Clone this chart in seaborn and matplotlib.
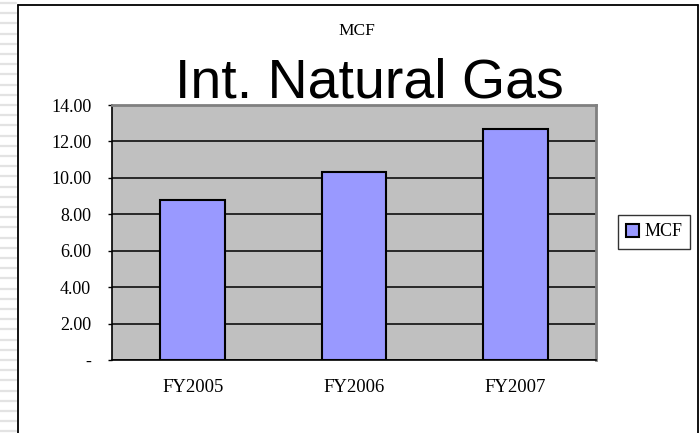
import pandas as pd
import numpy as np
import matplotlib.pyplot as plt
import seaborn as sns
from matplotlib.lines import Line2D

# chart data
years = ["FY2005", "FY2006", "FY2007"]
mcf = [8.78, 10.32, 12.70]
y_ticks = [0, 2, 4, 6, 8, 10, 12, 14]
y_labels = ["-", "2.00", "4.00", "6.00", "8.00", "10.00", "12.00", "14.00"]

W, H = 700, 433


def fx(px):
    return px / W


def fy(py):
    return 1 - py / H


def main():
    df = pd.DataFrame({"year": years, "mcf": mcf})

    sns.set_style("white")
    plt.rcParams["font.family"] = ["Liberation Serif", "DejaVu Serif"]
    plt.rcParams["text.color"] = "black"
    plt.rcParams["xtick.color"] = "black"
    plt.rcParams["ytick.color"] = "black"
    plt.rcParams["xtick.labelcolor"] = "black"
    plt.rcParams["ytick.labelcolor"] = "black"

    fig = plt.figure(figsize=(7, 4.33), dpi=100)

    # slide decoration: striped margin on the left and the chart frame
    for py in np.arange(3, H, 10.2):
        fig.add_artist(Line2D([0, fx(16)], [fy(py), fy(py)], color="#E3E3E3", lw=1.6))
    fig.add_artist(Line2D([fx(18), fx(18)], [fy(5), 0], color="black", lw=1.3))
    fig.add_artist(Line2D([fx(18), fx(698)], [fy(5), fy(5)], color="black", lw=1.3))
    fig.add_artist(Line2D([fx(698), fx(698)], [fy(5), 0], color="black", lw=1.3))

    ax = fig.add_axes([fx(112), fy(360), fx(596) - fx(112), fy(105) - fy(360)])
    ax.set_facecolor("#C0C0C0")

    sns.barplot(data=df, x="year", y="mcf", color="#9999FF", saturation=1,
                edgecolor="black", linewidth=1.5, width=0.4, ax=ax, zorder=3)

    ax.set_ylim(0, 14)
    ax.set_xlim(-0.5, len(years) - 0.5)
    ax.set_yticks(y_ticks)
    ax.set_yticklabels(y_labels, fontsize=13)
    ax.yaxis.grid(True, color="black", lw=1.1, zorder=1)
    ax.set_axisbelow(True)

    # category ticks sit between the bars, labels at bar centres
    ax.set_xticks(np.arange(len(years)))
    ax.set_xticklabels(years, fontsize=13.5)
    ax.set_xticks(np.arange(-0.5, len(years)), minor=True)
    ax.tick_params(axis="x", which="major", length=0, pad=14)
    ax.tick_params(axis="x", which="minor", length=4, width=1, direction="out", color="black")
    ax.tick_params(axis="y", length=3, width=1, direction="out", pad=12, color="black", left=True)
    ax.set_xlabel("")
    ax.set_ylabel("")

    for side in ["top", "right"]:
        ax.spines[side].set_color("#808080")
        ax.spines[side].set_linewidth(2)
    for side in ["left", "bottom"]:
        ax.spines[side].set_color("black")
        ax.spines[side].set_linewidth(1.2)

    fig.text(fx(357), fy(31), "MCF", ha="center", va="center", fontsize=12.5, color="black")
    fig.text(fx(369), fy(97), "Int. Natural Gas", ha="center", va="baseline",
             fontsize=40, color="black", family=["Liberation Sans", "DejaVu Sans"])

    leg = fig.legend([ax.patches[0]], ["MCF"], loc="center",
                     bbox_to_anchor=(fx(654), fy(232)), fontsize=13,
                     frameon=True, fancybox=False, edgecolor="black",
                     handlelength=0.7, handleheight=0.7, handletextpad=0.3,
                     borderpad=0.45, borderaxespad=0)
    leg.get_frame().set_linewidth(1.0)
    for t in leg.get_texts():
        t.set_color("black")

    plt.savefig("out.png", dpi=100)


if __name__ == "__main__":
    main()
